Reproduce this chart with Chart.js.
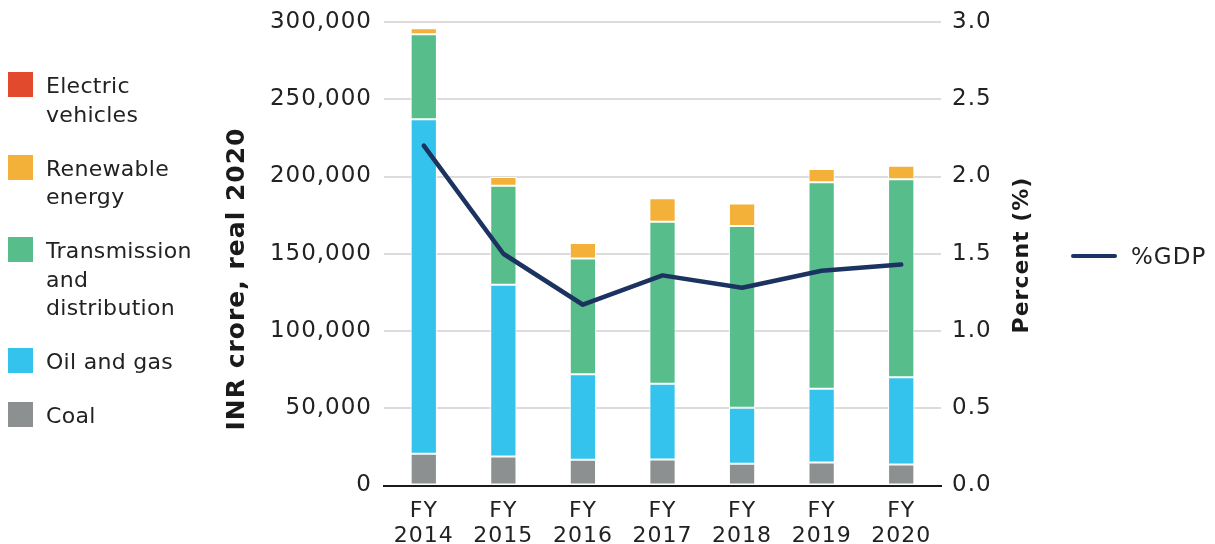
<!DOCTYPE html>
<html><head><meta charset="utf-8">
<script src="https://cdn.jsdelivr.net/npm/chart.js@4"></script>
<style>
html,body{margin:0;padding:0;background:#fff;}
#wrap{position:relative;width:1215px;height:544px;overflow:hidden;}
#c{position:absolute;left:0;top:0;}
.leg{position:absolute;left:8px;top:72px;font-family:"DejaVu Sans";font-size:22px;line-height:28.5px;color:#222;letter-spacing:0.3px;}
.item{position:relative;padding-left:38px;width:165px;margin-bottom:25.5px;}
.sw{position:absolute;left:0;top:0;width:25px;height:25px;}
.rleg{position:absolute;left:1071px;top:241px;height:30px;font-family:"DejaVu Sans";font-size:23px;color:#222;display:flex;align-items:center;letter-spacing:1px;}
.rleg .ln{width:46px;height:4.5px;border-radius:3px;margin-right:14px;}
</style>
</head><body>
<div id="wrap">
<canvas id="c" width="1215" height="544"></canvas>
<div class="leg" id="leg"></div>
<div class="rleg" id="rleg"></div>
</div>
<script>
const categories = [['FY','2014'],['FY','2015'],['FY','2016'],['FY','2017'],['FY','2018'],['FY','2019'],['FY','2020']];
const coal      = [20500, 18800, 16600, 16800, 14000, 14900, 13600];
const oilGas    = [216500, 111200, 55400, 49100, 36300, 47700, 56400];
const transDist = [55000, 64000, 75000, 104800, 117700, 133600, 128300];
const renewable = [4000, 5600, 10000, 15300, 14600, 8600, 8700];
const electricVehicles = [0, 0, 0, 0, 0, 0, 1000];
const gdpShare  = [2.20, 1.50, 1.17, 1.36, 1.28, 1.39, 1.43];
const leftTicks = [0, 50000, 100000, 150000, 200000, 250000, 300000];
const rightTicks = [0, 0.5, 1.0, 1.5, 2.0, 2.5, 3.0];
const leftTitle = 'INR crore, real 2020';
const rightTitle = 'Percent (%)';

const seriesNames = ['Electric vehicles','Renewable energy','Transmission and distribution','Oil and gas','Coal'];
const colors = {
  'Electric vehicles':'#e24a2e',
  'Renewable energy':'#f4b13a',
  'Transmission and distribution':'#57bd8a',
  'Oil and gas':'#33c3ec',
  'Coal':'#8d9090'
};
const lineName = '%GDP';
const lineColor = '#1c3361';
const textColor = '#222222';

// HTML legends
const leg = document.getElementById('leg');
seriesNames.forEach(n => {
  const d = document.createElement('div'); d.className='item';
  const s = document.createElement('div'); s.className='sw'; s.style.background = colors[n];
  d.appendChild(s); d.appendChild(document.createTextNode(n)); leg.appendChild(d);
});
const rl = document.getElementById('rleg');
const ln = document.createElement('div'); ln.className='ln'; ln.style.background=lineColor;
rl.appendChild(ln); rl.appendChild(document.createTextNode(lineName));

const spacing = {
  id:'spacing',
  beforeLayout(c){ c.ctx.letterSpacing='1px'; },
  beforeDraw(c){ c.ctx.letterSpacing='1px'; }
};

// axis titles, both reading bottom-to-top
const axisTitles = {
  id:'axisTitles',
  afterDraw(c){
    const ctx = c.ctx;
    const draw = (text, x, y, size) => {
      ctx.save();
      ctx.letterSpacing='1px';
      ctx.translate(x, y);
      ctx.rotate(-Math.PI/2);
      ctx.font = 'bold ' + size + 'px "DejaVu Sans"';
      ctx.fillStyle = '#1a1a1a';
      ctx.textAlign = 'center';
      ctx.textBaseline = 'middle';
      ctx.fillText(text, 0, 0);
      ctx.restore();
    };
    const ya = c.scales.y, yb = c.scales.y1;
    draw(leftTitle, ya.left + 17, 279, 25);
    draw(rightTitle, yb.right - 17, 255, 22);
  }
};

const barBase = {type:'bar', yAxisID:'y', stack:'s', borderColor:'#ffffff', borderWidth:1, borderSkipped:false,
  barPercentage:0.33, categoryPercentage:1.0, order:1};

function fitV(width){
  return function(s){ s.width = width; s.paddingTop = 0; s.paddingBottom = 0; };
}

new Chart(document.getElementById('c'), {
  data:{
    labels: categories,
    datasets:[
      {...barBase, label:'Coal', data:coal, backgroundColor:colors['Coal']},
      {...barBase, label:'Oil and gas', data:oilGas, backgroundColor:colors['Oil and gas']},
      {...barBase, label:'Transmission and distribution', data:transDist, backgroundColor:colors['Transmission and distribution']},
      {...barBase, label:'Renewable energy', data:renewable, backgroundColor:colors['Renewable energy']},
      {...barBase, label:'Electric vehicles', data:electricVehicles, backgroundColor:colors['Electric vehicles']},
      {type:'line', label:lineName, data:gdpShare, yAxisID:'y1', borderColor:lineColor, borderWidth:4.5,
       pointRadius:0, tension:0, borderCapStyle:'round', borderJoinStyle:'round', order:0}
    ]
  },
  options:{
    responsive:false, animation:false,
    layout:{padding:{left:220, right:175.6, top:22, bottom:0}},
    plugins:{legend:{display:false}, tooltip:{enabled:false}},
    scales:{
      x:{
        stacked:true,
        grid:{display:false, drawTicks:false},
        border:{display:true, color:'#1a1a1a', width:2},
        ticks:{color:textColor, font:{family:'DejaVu Sans', size:22, lineHeight:1.14}, padding:13, maxRotation:0, autoSkip:false},
        afterFit(s){ s.height = 58.5; s.paddingLeft = 0; s.paddingRight = 0; }
      },
      y:{
        position:'left', stacked:true, min:0, max:300000,
        afterBuildTicks(s){ s.ticks = leftTicks.map(v=>({value:v})); },
        grid:{color:'#dcdcdc', lineWidth:2, drawTicks:false},
        border:{display:false},
        ticks:{color:textColor, font:{family:'DejaVu Sans', size:23}, padding:12,
          callback:v=>v.toLocaleString('en-US')},
        afterFit: fitV(164)
      },
      y1:{
        position:'right', min:0, max:3,
        afterBuildTicks(s){ s.ticks = rightTicks.map(v=>({value:v})); },
        grid:{display:false, drawTicks:false},
        border:{display:false},
        ticks:{color:textColor, font:{family:'DejaVu Sans', size:23}, padding:11,
          callback:v=>Number(v).toFixed(1)},
        afterFit: fitV(98.4)
      }
    }
  },
  plugins:[spacing, axisTitles]
});
</script>
</body></html>
